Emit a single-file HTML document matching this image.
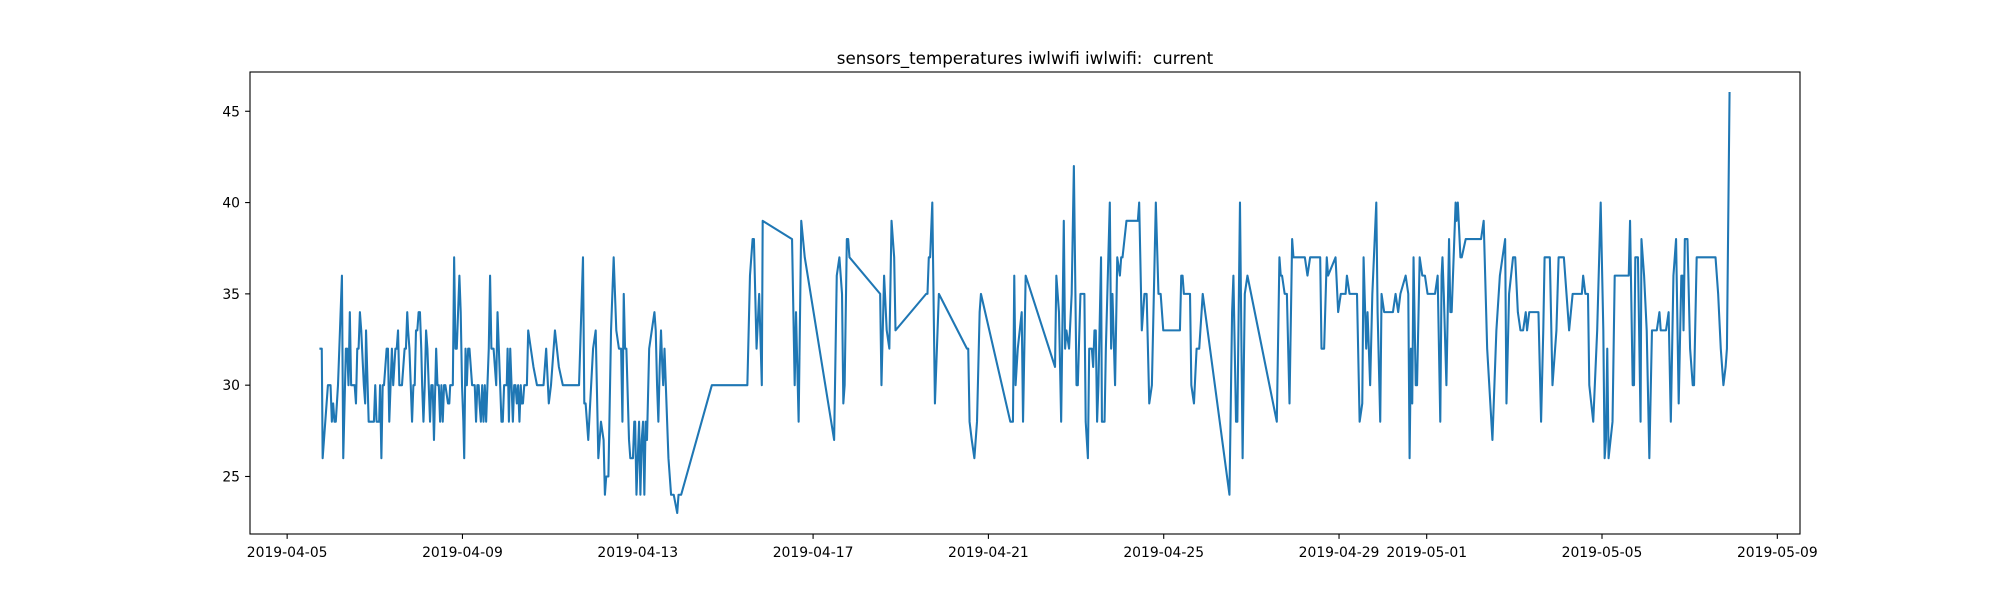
<!DOCTYPE html>
<html><head><meta charset="utf-8">
<style>
html,body{margin:0;padding:0;background:#fff;}
svg{display:block;font-family:"DejaVu Sans","Liberation Sans",sans-serif;}
</style></head>
<body>
<svg id="chart" width="2000" height="600" xmlns="http://www.w3.org/2000/svg">
<rect x="0" y="0" width="2000" height="600" fill="#fff"/>
<text x="1025" y="64" font-size="16.7" text-anchor="middle" fill="#000" style="white-space:pre" xml:space="preserve">sensors_temperatures iwlwifi iwlwifi:  current</text>
<g id="plot"></g>
</svg>
<script>
// days since 2019-04-05 00:00
const times = [0.76,0.79,0.81,0.87,0.93,0.96,0.99,1.02,1.05,1.08,1.11,1.16,1.25,1.28,1.34,1.37,1.40,1.43,1.46,1.51,1.54,1.57,1.60,1.63,1.66,1.69,1.75,1.78,1.80,1.86,1.89,1.95,1.98,2.01,2.04,2.10,2.12,2.15,2.18,2.21,2.27,2.30,2.33,2.36,2.39,2.42,2.47,2.50,2.53,2.56,2.62,2.68,2.71,2.74,2.76,2.79,2.82,2.85,2.88,2.91,2.94,2.97,3.00,3.03,3.06,3.08,3.11,3.14,3.17,3.20,3.23,3.26,3.29,3.32,3.35,3.38,3.40,3.43,3.46,3.49,3.52,3.55,3.58,3.61,3.67,3.70,3.72,3.78,3.81,3.84,3.87,3.90,3.93,3.96,3.99,4.02,4.04,4.07,4.10,4.13,4.16,4.22,4.25,4.28,4.31,4.34,4.37,4.39,4.42,4.45,4.48,4.51,4.54,4.57,4.60,4.63,4.66,4.69,4.71,4.74,4.77,4.80,4.83,4.86,4.89,4.92,4.95,4.98,5.01,5.03,5.06,5.09,5.12,5.15,5.18,5.21,5.24,5.27,5.30,5.33,5.35,5.38,5.41,5.47,5.50,5.56,5.62,5.70,5.76,5.85,5.91,5.97,6.02,6.11,6.20,6.29,6.40,6.55,6.66,6.75,6.78,6.81,6.87,6.98,7.04,7.10,7.16,7.22,7.25,7.28,7.33,7.39,7.45,7.51,7.57,7.62,7.65,7.68,7.71,7.74,7.80,7.83,7.89,7.92,7.94,7.97,8.00,8.03,8.06,8.09,8.12,8.15,8.18,8.21,8.26,8.32,8.38,8.41,8.44,8.47,8.50,8.53,8.56,8.58,8.61,8.64,8.70,8.76,8.82,8.90,8.93,8.99,9.69,10.50,10.56,10.62,10.65,10.71,10.77,10.83,10.85,11.52,11.58,11.61,11.67,11.73,11.81,12.48,12.54,12.60,12.66,12.69,12.72,12.77,12.80,12.83,13.53,13.56,13.62,13.68,13.74,13.79,13.85,13.88,14.58,14.61,14.64,14.67,14.72,14.78,14.87,15.51,15.54,15.57,15.62,15.68,15.74,15.80,15.83,16.50,16.56,16.59,16.62,16.67,16.76,16.79,16.85,17.52,17.55,17.61,17.66,17.72,17.75,17.78,17.84,17.90,17.95,18.01,18.04,18.10,18.19,18.22,18.27,18.30,18.36,18.39,18.42,18.45,18.48,18.51,18.57,18.59,18.65,18.68,18.77,18.80,18.83,18.89,18.94,19.00,19.03,19.06,19.15,19.35,19.41,19.44,19.50,19.56,19.61,19.67,19.73,19.82,19.88,19.93,19.99,20.22,20.37,20.40,20.43,20.46,20.60,20.63,20.69,20.75,20.81,20.89,21.50,21.56,21.59,21.65,21.68,21.74,21.80,21.85,21.91,22.58,22.64,22.67,22.70,22.76,22.81,22.87,22.93,22.96,23.08,23.22,23.28,23.34,23.57,23.60,23.66,23.72,23.75,23.92,23.98,24.04,24.15,24.18,24.24,24.41,24.47,24.53,24.56,24.62,24.65,24.71,24.76,24.85,24.88,24.94,24.97,25.03,25.23,25.29,25.35,25.40,25.52,25.58,25.61,25.64,25.67,25.70,25.75,25.78,25.84,25.90,25.96,26.02,26.19,26.25,26.31,26.34,26.36,26.39,26.45,26.51,26.54,26.57,26.66,26.68,26.71,26.77,26.80,26.89,27.24,27.30,27.38,27.50,27.59,27.67,27.73,27.79,27.82,27.88,27.97,28.02,28.08,28.14,28.20,28.26,28.29,28.34,28.55,28.61,28.66,28.69,28.81,28.87,28.93,28.96,29.01,29.13,29.19,29.25,29.33,29.54,29.57,29.62,29.68,29.71,29.80,29.89,29.97,30.03,30.06,30.09,30.12,30.15,30.24,30.29,30.61,30.64,30.70,30.73,30.76,30.82,30.88,30.90,30.96,31.02,31.08,31.14,31.25,31.31,31.34,31.46,31.52,31.57,31.63,31.69,31.75,31.81,31.84,31.86,31.89,31.95,32.01,32.07,32.10,32.16,32.59,32.65,32.71,32.77,32.82,32.85,32.91];
const temps = [32,32,26,28,30,30,30,28,29,28,28,30,36,26,32,32,30,34,30,30,30,29,32,32,34,33,30,29,33,28,28,28,28,30,28,28,30,26,30,30,32,32,28,30,32,30,32,32,33,30,30,32,32,34,33,32,30,28,30,30,33,33,34,34,32,30,28,30,33,32,30,28,30,30,27,30,32,30,30,28,30,28,30,30,29,29,30,30,37,32,32,34,36,34,30,28,26,32,30,32,32,30,30,30,28,30,30,29,28,30,28,30,28,30,32,36,32,32,32,31,30,34,32,30,28,28,30,30,30,32,28,32,30,28,30,30,29,30,28,30,29,29,30,30,33,32,31,30,30,30,32,29,30,33,31,30,30,30,30,37,29,29,27,32,33,26,28,27,24,25,25,33,37,33,32,32,28,35,32,32,27,26,26,28,28,24,26,28,24,27,28,24,28,27,32,33,34,33,30,28,31,33,31,30,32,30,26,24,24,23,24,24,30,30,36,38,38,32,35,30,39,38,30,34,28,39,37,27,36,37,35,29,30,38,38,37,35,30,36,33,32,39,37,33,35,35,37,37,40,29,35,32,32,28,27,26,28,34,35,28,28,36,30,32,34,28,36,31,36,34,28,39,32,33,32,35,42,30,30,35,35,28,26,32,32,31,33,33,28,30,37,28,28,32,40,32,35,30,37,36,37,37,39,39,39,40,33,35,35,29,30,40,35,35,33,33,33,36,36,35,35,30,29,32,32,35,24,34,36,28,28,40,26,35,36,28,37,36,36,35,35,29,38,37,37,37,36,37,37,32,32,37,36,37,34,35,35,36,35,35,28,29,37,32,34,30,35,40,34,28,35,34,34,35,34,35,36,35,26,32,29,37,30,30,37,36,36,35,35,36,28,36,37,35,30,38,34,34,40,39,40,37,37,38,38,39,32,27,33,36,37,38,29,35,37,37,34,33,33,34,33,34,34,28,33,37,37,30,32,33,37,37,35,33,35,35,36,35,35,30,28,33,40,33,26,27,32,26,28,36,36,39,30,30,37,37,28,38,36,33,26,33,33,34,33,33,34,28,36,38,29,36,36,33,38,38,32,30,30,37,37,35,32,30,31,32,46];
const xTickDays = [0,4,8,12,16,20,24,26,30,34];
const xTickLabels = ["2019-04-05","2019-04-09","2019-04-13","2019-04-17","2019-04-21","2019-04-25","2019-04-29","2019-05-01","2019-05-05","2019-05-09"];
const yTicks = [25,30,35,40,45];

const NS = "http://www.w3.org/2000/svg";
const L = 250, R = 1800, T = 72, B = 534;
const tMin = Math.min(...times), tMax = Math.max(...times);
const vMin = Math.min(...temps), vMax = Math.max(...temps);
const tPad = (tMax - tMin) * 0.05, vPad = (vMax - vMin) * 0.05;
const x0 = tMin - tPad, x1 = tMax + tPad, y0 = vMin - vPad, y1 = vMax + vPad;
function xScale(d) { return L + (d - x0) / (x1 - x0) * (R - L); }
function yScale(v) { return B - (v - y0) / (y1 - y0) * (B - T); }
const plot = document.getElementById('plot');
function mk(tag, attrs) {
  const e = document.createElementNS(NS, tag);
  for (const k in attrs) e.setAttribute(k, attrs[k]);
  return e;
}

// series
let d = "";
for (let i = 0; i < times.length; i++) {
  d += (i ? "L" : "M") + xScale(times[i]).toFixed(2) + "," + yScale(temps[i]).toFixed(2);
}
const line = mk('path', {d: d, fill: "none", stroke: "#1f77b4", "stroke-width": 2.08, "stroke-linejoin": "round", "stroke-linecap": "square"});


plot.appendChild(line);

// frame
const frame = mk('rect', {x: L, y: T, width: R - L, height: B - T, fill: "none", stroke: "#000", "stroke-width": 1.1});


plot.appendChild(frame);

// x ticks
xTickDays.forEach((td, i) => {
  const x = xScale(td);
  const tk = mk('line', {x1: x, x2: x, y1: B, y2: B + 4.9, stroke: "#000", "stroke-width": 1.1});
  
  
  plot.appendChild(tk);
  const tx = mk('text', {x: x, y: B + 23, "font-size": 13.9, "text-anchor": "middle", fill: "#000"});
  tx.textContent = xTickLabels[i];
  
  
  plot.appendChild(tx);
});

// y ticks
yTicks.forEach(v => {
  const y = yScale(v);
  const tk = mk('line', {x1: L - 4.9, x2: L, y1: y, y2: y, stroke: "#000", "stroke-width": 1.1});
  
  
  plot.appendChild(tk);
  const tx = mk('text', {x: L - 10, y: y + 5, "font-size": 13.9, "text-anchor": "end", fill: "#000"});
  tx.textContent = String(v);
  
  
  plot.appendChild(tx);
});
</script>
</body></html>
